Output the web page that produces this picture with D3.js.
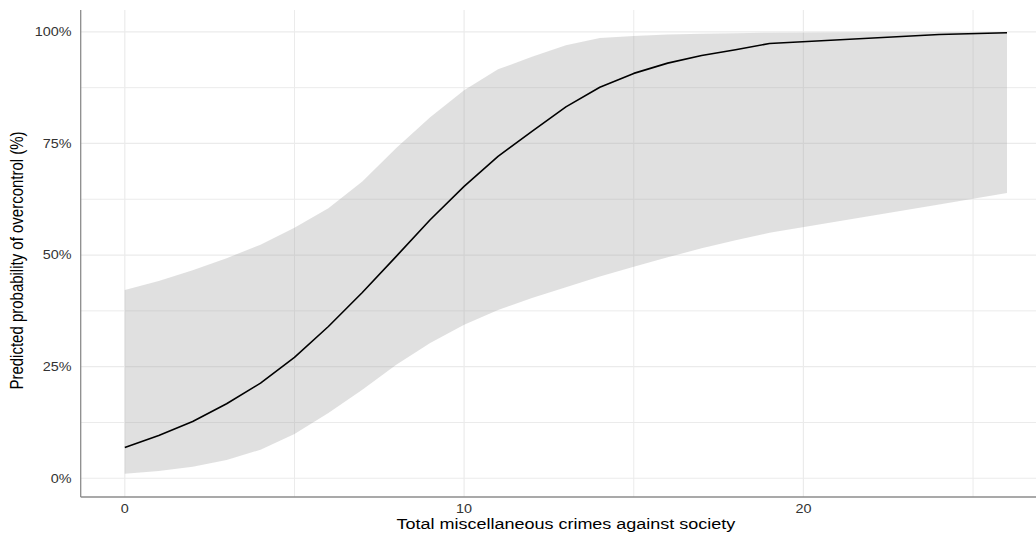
<!DOCTYPE html>
<html>
<head>
<meta charset="utf-8">
<script src="https://cdn.jsdelivr.net/npm/d3@7"></script>
<style>
  html, body { margin: 0; padding: 0; background: #fff; }
  svg { display: block; font-family: "Liberation Sans", Arial, Helvetica, sans-serif; }
</style>
</head>
<body>
<svg id="chart" width="1036" height="533"></svg>
<script>
// Predicted probability of overcontrol by number of miscellaneous crimes
const crimes = [0, 1, 2, 3, 4, 5, 6, 7, 8, 9, 10, 11, 12, 13, 14, 15, 16, 17, 18, 19, 24, 26];
const predicted = [6.9, 9.6, 12.7, 16.7, 21.3, 27.1, 34.0, 41.6, 49.7, 57.9, 65.4, 72.1, 77.7, 83.2, 87.6, 90.7, 93.0, 94.7, 96.0, 97.4, 99.4, 99.8];
const ciUpper = [42.2, 44.2, 46.6, 49.3, 52.3, 56.1, 60.5, 66.5, 74.0, 80.9, 86.9, 91.6, 94.4, 97.0, 98.6, 99.1, 99.4, 99.6, 99.7, 99.8, 99.95, 99.98];
const ciLower = [1.0, 1.6, 2.6, 4.1, 6.4, 9.9, 14.6, 19.8, 25.4, 30.3, 34.4, 37.7, 40.4, 42.8, 45.2, 47.4, 49.5, 51.5, 53.3, 55.0, 61.3, 63.9];

const xMajor = [0, 10, 20];
const xMinor = [5, 15, 25];
const yMajor = [0, 25, 50, 75, 100];
const yMinor = [12.5, 37.5, 62.5, 87.5];
const yTickLabels = ["0%", "25%", "50%", "75%", "100%"];
const xTitle = "Total miscellaneous crimes against society";
const yTitle = "Predicted probability of overcontrol (%)";

const W = 1036, H = 533;
const panel = { left: 80.7, right: 1051.1, top: 10, bottom: 497 };
const textStretch = 1.2;

const svg = d3.select("#chart");

const x = d3.scaleLinear().domain([-1.3, 27.3]).range([panel.left, panel.right]);
const y = d3.scaleLinear().domain([-4.2, 104.9]).range([panel.bottom, panel.top]);

const data = crimes.map((c, i) => ({ c, p: predicted[i], lo: ciLower[i], hi: ciUpper[i] }));

// grid
const grid = svg.append("g").attr("stroke", "#ebebeb").attr("fill", "none");
grid.selectAll("line.ymin").data(yMinor).join("line")
  .attr("x1", panel.left).attr("x2", W)
  .attr("y1", d => y(d)).attr("y2", d => y(d)).attr("stroke-width", 1);
grid.selectAll("line.xmin").data(xMinor).join("line")
  .attr("y1", panel.top).attr("y2", panel.bottom)
  .attr("x1", d => x(d)).attr("x2", d => x(d)).attr("stroke-width", 1);
grid.selectAll("line.ymaj").data(yMajor).join("line")
  .attr("x1", panel.left).attr("x2", W)
  .attr("y1", d => y(d)).attr("y2", d => y(d)).attr("stroke-width", 1.2);
grid.selectAll("line.xmaj").data(xMajor).join("line")
  .attr("y1", panel.top).attr("y2", panel.bottom)
  .attr("x1", d => x(d)).attr("x2", d => x(d)).attr("stroke-width", 1.2);

// confidence band
const band = d3.area()
  .x(d => x(d.c))
  .y0(d => y(d.lo))
  .y1(d => y(d.hi));
svg.append("path").datum(data)
  .attr("d", band)
  .attr("fill", "#999999")
  .attr("fill-opacity", 0.3);

// predicted line
const line = d3.line().x(d => x(d.c)).y(d => y(d.p));
svg.append("path").datum(data)
  .attr("d", line)
  .attr("fill", "none")
  .attr("stroke", "#000")
  .attr("stroke-width", 1.6)
  .attr("stroke-linejoin", "round");

// axis lines
svg.append("line")
  .attr("x1", panel.left).attr("x2", panel.left)
  .attr("y1", panel.top).attr("y2", panel.bottom)
  .attr("stroke", "#8c8c8c").attr("stroke-width", 1.3);
svg.append("line")
  .attr("x1", panel.left).attr("x2", W)
  .attr("y1", panel.bottom).attr("y2", panel.bottom)
  .attr("stroke", "#8c8c8c").attr("stroke-width", 1.3);

// tick labels
svg.append("g").selectAll("text").data(yMajor).join("text")
  .attr("transform", d => `translate(71.5,${y(d) + 4.3}) scale(${textStretch},1)`)
  .attr("text-anchor", "end")
  .attr("font-size", 12)
  .attr("fill", "#333")
  .text((d, i) => yTickLabels[i]);

svg.append("g").selectAll("text").data(xMajor).join("text")
  .attr("transform", d => `translate(${x(d)},512.6) scale(${textStretch},1)`)
  .attr("text-anchor", "middle")
  .attr("font-size", 12)
  .attr("fill", "#333")
  .text(d => d);

// axis titles
svg.append("text")
  .attr("transform", `translate(${(panel.left + panel.right) / 2},528.5) scale(${textStretch},1)`)
  .attr("text-anchor", "middle")
  .attr("font-size", 15)
  .attr("fill", "#000")
  .text(xTitle);

svg.append("text")
  .attr("transform", `translate(23,${(panel.top + panel.bottom) / 2 + 7}) scale(${textStretch},1) rotate(-90)`)
  .attr("text-anchor", "middle")
  .attr("font-size", 15)
  .attr("fill", "#000")
  .text(yTitle);
</script>
</body>
</html>
